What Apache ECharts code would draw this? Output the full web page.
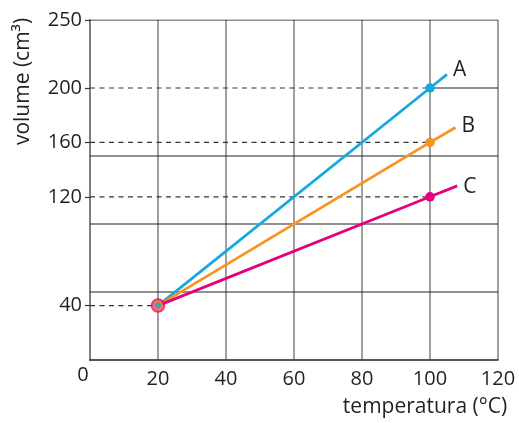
<!DOCTYPE html>
<html>
<head>
<meta charset="utf-8">
<script src="https://cdn.jsdelivr.net/npm/echarts@6/dist/echarts.min.js"></script>
<style>
html,body{margin:0;padding:0;background:#fff;}
#chart{width:519px;height:423px;}
</style>
</head>
<body>
<div id="chart"></div>
<script>
// ---- data ----
const xTicks = [0, 20, 40, 60, 80, 100, 120];
const yLabels = [40, 120, 160, 200, 250];
const hGridValues = [50, 100, 150, 200, 250];
const hGridStartX = [0, 0, 0, 100, 0];
const startPoint = [20, 40];
const lineNames = ['A', 'B', 'C'];
const lineA = [[20, 40], [100, 200], [105, 210]];
const lineB = [[20, 40], [100, 160], [107.5, 171]];
const lineC = [[20, 40], [100, 120], [108, 128]];
const guideValues = [40, 120, 160, 200];
const guideEndsX = [20, 100, 100, 100];

// ---- style ----
const FONT = 'Open Sans';
const TXT = '#231f20';
const colors = ['#17a8e0', '#f7941d', '#e6007e'];
const endOffsets = [[0, -4], [0, -1], [0, 1]];

const chart = echarts.init(document.getElementById('chart'));

const gridSeries = hGridValues.map((v, i) => ({
  type: 'line',
  data: [[hGridStartX[i], v], [120, v]],
  symbol: 'none',
  silent: true,
  lineStyle: { color: '#222', width: 1.2 },
  z: 2
}));

const guideSeries = guideValues.map((v, i) => ({
  type: 'line',
  data: [[0, v], [guideEndsX[i], v]],
  symbol: 'none',
  silent: true,
  lineStyle: { color: '#333', width: 1.2, type: [5, 4.5] },
  z: 3
}));

const mainSeries = [lineA, lineB, lineC].map((d, i) => ({
  type: 'line',
  name: lineNames[i],
  data: d.map((p, j) => ({
    value: p,
    symbol: j === 1 ? 'circle' : 'none',
    symbolSize: j === 1 ? 9.5 : 0
  })),
  showSymbol: true,
  itemStyle: { color: colors[i] },
  lineStyle: { color: colors[i], width: 2.8 },
  endLabel: {
    show: true,
    formatter: lineNames[i],
    fontFamily: FONT,
    fontSize: 21,
    color: TXT,
    distance: 6,
    offset: endOffsets[i]
  },
  z: 5
}));

const startSeries = [
  { size: 14.5, color: colors[2] },
  { size: 10.5, color: colors[1] },
  { size: 6, color: colors[0] }
].map((s, i) => ({
  type: 'scatter',
  data: [startPoint],
  symbol: 'circle',
  symbolSize: s.size,
  itemStyle: { color: s.color },
  z: 6 + i
}));

chart.setOption({
  animation: false,
  textStyle: { fontFamily: FONT },
  grid: { left: 90, right: 21, top: 20, bottom: 62, containLabel: false },
  xAxis: {
    type: 'value',
    min: 0,
    max: 120,
    interval: 20,
    name: 'temperatura (°C)',
    nameLocation: 'middle',
    nameGap: 37,
    nameTextStyle: { fontFamily: FONT, fontSize: 21, color: TXT, padding: [0, 0, 0, 262] },
    axisLine: { show: true, lineStyle: { color: '#222', width: 1.5 } },
    axisTick: { show: false },
    axisLabel: {
      fontFamily: FONT,
      fontSize: 20,
      color: TXT,
      margin: 9,
      formatter: v => (v === 0 ? '{z|0}' : String(v)),
      rich: { z: { fontFamily: FONT, fontSize: 20, color: TXT, padding: [0, 14, 0, 0], lineHeight: 12 } }
    },
    splitLine: { show: true, lineStyle: { color: '#7f7f7f', width: 1.5 } }
  },
  yAxis: {
    type: 'value',
    min: 0,
    max: 250,
    name: 'volume (cm³)',
    nameLocation: 'middle',
    nameRotate: 90,
    nameGap: 56,
    nameTextStyle: { fontFamily: FONT, fontSize: 21, color: TXT, padding: [0, 0, 0, 217] },
    axisLine: { show: true, lineStyle: { color: '#7f7f7f', width: 2 } },
    axisTick: { show: true, customValues: yLabels, length: 5, lineStyle: { color: '#333', width: 1.2 } },
    axisLabel: { customValues: yLabels, fontFamily: FONT, fontSize: 20, color: TXT, margin: 8 },
    splitLine: { show: false }
  },
  series: [...gridSeries, ...guideSeries, ...mainSeries, ...startSeries]
});
</script>
</body>
</html>
